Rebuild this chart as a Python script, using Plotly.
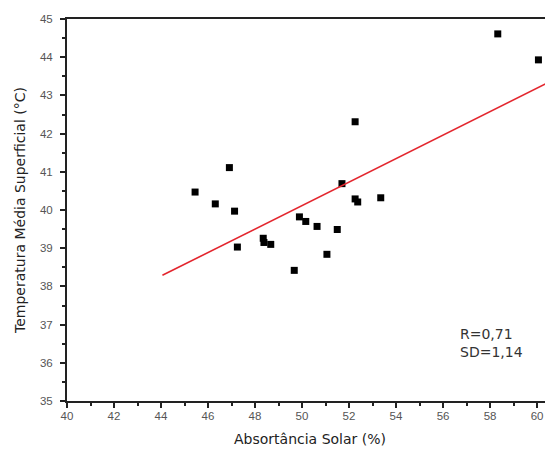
import plotly.graph_objects as go

absortancia = [45.45, 46.31, 46.91, 47.13, 47.25, 48.35, 48.38, 48.67, 49.67, 49.89,
               50.16, 50.64, 51.06, 51.50, 51.70, 52.26, 52.26, 52.37, 53.35, 58.33, 60.06]
temperatura = [40.47, 40.16, 41.11, 39.97, 39.03, 39.26, 39.15, 39.10, 38.42, 39.82,
               39.70, 39.57, 38.84, 39.49, 40.69, 42.31, 40.29, 40.21, 40.32, 44.61, 43.93]

fit_x = [44.06, 60.75]
fit_y = [38.29, 43.42]

x_ticks = [40, 42, 44, 46, 48, 50, 52, 54, 56, 58, 60]
y_ticks = [35, 36, 37, 38, 39, 40, 41, 42, 43, 44, 45]

stats_text = "R=0,71<br>SD=1,14"

tick_font = "Liberation Sans, Arial, sans-serif"
title_font = "DejaVu Sans, sans-serif"

fig = go.Figure()
fig.add_trace(go.Scatter(
    x=absortancia, y=temperatura, mode="markers",
    marker=dict(symbol="square", size=7, color="black"),
    showlegend=False, cliponaxis=False,
))
fig.add_trace(go.Scatter(
    x=fit_x, y=fit_y, mode="lines",
    line=dict(color="#e3262e", width=1.6),
    showlegend=False,
))

fig.add_annotation(
    x=56.64, y=36.51, xref="x", yref="y", text=stats_text, showarrow=False,
    xanchor="left", yanchor="middle", align="left",
    font=dict(family=title_font, size=14, color="#333"),
)

axis_common = dict(
    showgrid=False, zeroline=False, showline=True, linecolor="#222", linewidth=2,
    ticks="outside", ticklen=5, tickwidth=1.5, tickcolor="#222",
    tickfont=dict(family=tick_font, size=11.5, color="#555"),
    title_font=dict(family=title_font, size=14, color="#222"),
    automargin=False,
)

# page body has an 8px default margin: figure is offset by (8, 8)
fig.update_layout(
    width=545, height=447,
    margin=dict(l=59, r=0, t=11, b=54, autoexpand=False),
    paper_bgcolor="white", plot_bgcolor="white",
    xaxis=dict(
        range=[40, 60.68], tickvals=x_ticks, mirror=True,
        title=dict(text="Absortância Solar (%)", standoff=13),
        minor=dict(dtick=1, ticks="outside", ticklen=3, tickcolor="#222"),
        ticklabelstandoff=-2,
        **axis_common,
    ),
    yaxis=dict(
        range=[35, 45], tickvals=y_ticks,
        title=dict(text="Temperatura Média Superficial (°C)", standoff=11),
        minor=dict(dtick=0.5, ticks="outside", ticklen=3, tickcolor="#222"),
        ticklabelstandoff=5,
        **axis_common,
    ),
)

fig.write_html("out.html")
